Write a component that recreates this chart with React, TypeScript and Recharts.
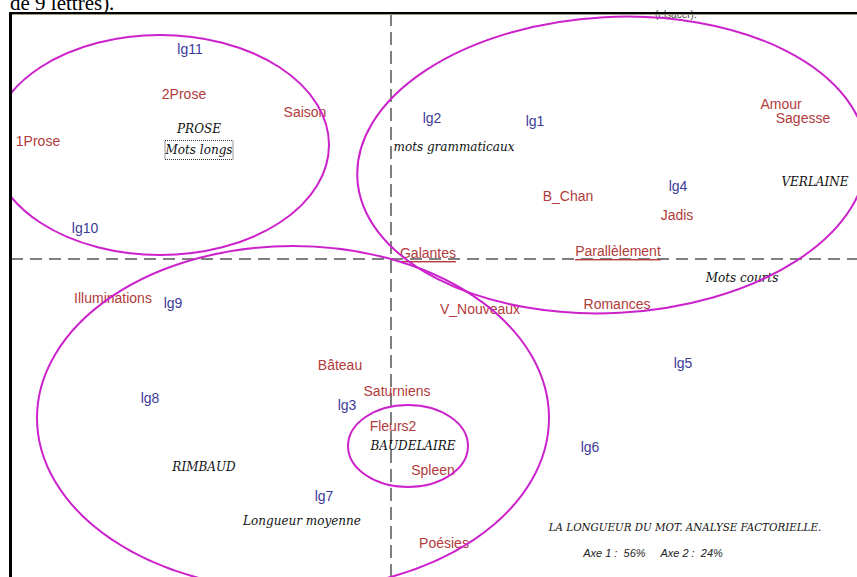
import { ScatterChart, Scatter, XAxis, YAxis, ReferenceLine } from 'recharts'

// plot sits inside the page frame (left border at x=11, top border at y=15)
const W = 846
const H = 562
const X_DOMAIN: [number, number] = [-3.8, 4.66]
const Y_DOMAIN: [number, number] = [-3.18, 2.44]
const KX = W / (X_DOMAIN[1] - X_DOMAIN[0])
const KY = H / (Y_DOMAIN[1] - Y_DOMAIN[0])

// recueils / poèmes (modalités)
const modalites = [
  { name: '2Prose', x: -2.07, y: 1.65 },
  { name: 'Saison', x: -0.86, y: 1.47 },
  { name: '1Prose', x: -3.53, y: 1.18 },
  { name: 'Amour', x: 3.9, y: 1.55 },
  { name: 'Sagesse', x: 4.12, y: 1.41 },
  { name: 'B_Chan', x: 1.77, y: 0.63 },
  { name: 'Jadis', x: 2.86, y: 0.44 },
  { name: 'Parallèlement', x: 2.27, y: 0.08 },
  { name: 'Galantes', x: 0.37, y: 0.06 },
  { name: 'V_Nouveaux', x: 0.89, y: -0.5 },
  { name: 'Romances', x: 2.26, y: -0.45 },
  { name: 'Illuminations', x: -2.78, y: -0.39 },
  { name: 'Bâteau', x: -0.51, y: -1.06 },
  { name: 'Saturniens', x: 0.06, y: -1.32 },
  { name: 'Fleurs2', x: 0.02, y: -1.67 },
  { name: 'Spleen', x: 0.42, y: -2.11 },
  { name: 'Poésies', x: 0.53, y: -2.84 },
]

// classes de longueur
const classes = [
  { name: 'lg11', x: -2.01, y: 2.1 },
  { name: 'lg10', x: -3.06, y: 0.31 },
  { name: 'lg2', x: 0.41, y: 1.41 },
  { name: 'lg1', x: 1.44, y: 1.38 },
  { name: 'lg4', x: 2.87, y: 0.73 },
  { name: 'lg9', x: -2.18, y: -0.44 },
  { name: 'lg5', x: 2.92, y: -1.04 },
  { name: 'lg8', x: -2.41, y: -1.39 },
  { name: 'lg3', x: -0.44, y: -1.46 },
  { name: 'lg6', x: 1.99, y: -1.88 },
  { name: 'lg7', x: -0.67, y: -2.37 },
]

// commentaires en italique
const notes = [
  { name: 'PROSE', x: -1.92, y: 1.3 },
  { name: 'Mots longs', x: -1.92, y: 1.09 },
  { name: 'mots grammaticaux', x: 0.63, y: 1.12 },
  { name: 'VERLAINE', x: 4.24, y: 0.77 },
  { name: 'Mots courts', x: 3.51, y: -0.19 },
  { name: 'BAUDELAIRE', x: 0.22, y: -1.87 },
  { name: 'RIMBAUD', x: -1.87, y: -2.08 },
  { name: 'Longueur moyenne', x: -0.89, y: -2.62 },
]

// groupes entourés
const groupes = [
  { name: 'Prose', x: -2.31, y: 1.14, rx: 1.69, ry: 1.1, tilt: 0 },
  { name: 'Verlaine', x: 2.21, y: 0.94, rx: 2.55, ry: 1.48, tilt: -3 },
  { name: 'Rimbaud', x: -0.98, y: -1.59, rx: 2.56, ry: 1.72, tilt: 0 },
  { name: 'Baudelaire', x: 0.17, y: -1.87, rx: 0.6, ry: 0.41, tilt: 0 },
]

const underlined = ['Galantes', 'Parallèlement']
const boxed = ['Mots longs']

const SANS = '"Liberation Sans", Arial, sans-serif'
const SERIF = '"DejaVu Serif", serif'

const textShape = (color: string, family: string, size: number, italic: boolean) => (props: any) => {
  const { cx, cy, payload } = props
  const name: string = payload.name
  return (
    <g>
      {boxed.includes(name) && (
        <rect x={cx - 34} y={cy - 9.5} width={68} height={19} fill="none" stroke="#333" strokeWidth={1} strokeDasharray="1 1" />
      )}
      <text
        x={cx}
        y={cy}
        textAnchor="middle"
        dominantBaseline="central"
        fill={color}
        fontFamily={family}
        fontSize={size}
        fontStyle={italic ? 'italic' : 'normal'}
        textDecoration={underlined.includes(name) ? 'underline' : undefined}
      >
        {name}
      </text>
    </g>
  )
}

const ellipseShape = (props: any) => {
  const { cx, cy, payload } = props
  return (
    <ellipse
      cx={cx}
      cy={cy}
      rx={payload.rx * KX}
      ry={payload.ry * KY}
      transform={`rotate(${payload.tilt} ${cx} ${cy})`}
      fill="none"
      stroke="#cc22cc"
      strokeWidth={2}
    />
  )
}

export default function App() {
  return (
    <div style={{ position: 'absolute', left: 0, top: 0, width: 857, height: 577, overflow: 'hidden', background: '#fff' }}>
      <div style={{ position: 'absolute', left: 10, top: -7, fontFamily: '"Liberation Serif", serif', fontSize: 21, lineHeight: '21px', color: '#000', whiteSpace: 'nowrap' }}>
        de 9 lettres).
      </div>
      <div style={{ position: 'absolute', left: 655, top: 10, fontFamily: SANS, fontSize: 10, lineHeight: '10px', color: '#444' }}>
        (elsacer).
      </div>

      <div style={{ position: 'absolute', left: 11, top: 15 }}>
        <ScatterChart width={W} height={H} margin={{ top: 0, right: 0, bottom: 0, left: 0 }}>
          <XAxis type="number" dataKey="x" domain={X_DOMAIN} allowDataOverflow hide />
          <YAxis type="number" dataKey="y" domain={Y_DOMAIN} allowDataOverflow hide />
          <ReferenceLine x={0} stroke="#555" strokeWidth={1.5} strokeDasharray="13 6" />
          <ReferenceLine y={0} stroke="#555" strokeWidth={1.5} strokeDasharray="12 7" />
          <Scatter data={notes} shape={textShape('#111', SERIF, 12, true)} isAnimationActive={false} />
          <Scatter data={modalites} shape={textShape('#b23b3b', SANS, 14, false)} isAnimationActive={false} />
          <Scatter data={classes} shape={textShape('#3b3b98', SANS, 14, false)} isAnimationActive={false} />
          <Scatter data={groupes} shape={ellipseShape} isAnimationActive={false} />
        </ScatterChart>
      </div>

      <div style={{ position: 'absolute', left: 685, top: 527, transform: 'translate(-50%, -50%)', fontFamily: SERIF, fontStyle: 'italic', fontSize: 10.3, whiteSpace: 'nowrap', color: '#111' }}>
        LA LONGUEUR DU MOT. ANALYSE FACTORIELLE.
      </div>
      <div style={{ position: 'absolute', left: 653, top: 553, transform: 'translate(-50%, -50%)', fontFamily: SANS, fontStyle: 'italic', fontSize: 11, whiteSpace: 'pre', color: '#222' }}>
        {'Axe 1 :  56%     Axe 2 :  24%'}
      </div>

      <div style={{ position: 'absolute', left: 9, top: 12, width: 848, height: 2, background: '#000' }} />
      <div style={{ position: 'absolute', left: 9, top: 14, width: 848, height: 1, background: '#a09a80' }} />
      <div style={{ position: 'absolute', left: 9, top: 12, width: 3, height: 565, background: '#000' }} />
    </div>
  )
}
